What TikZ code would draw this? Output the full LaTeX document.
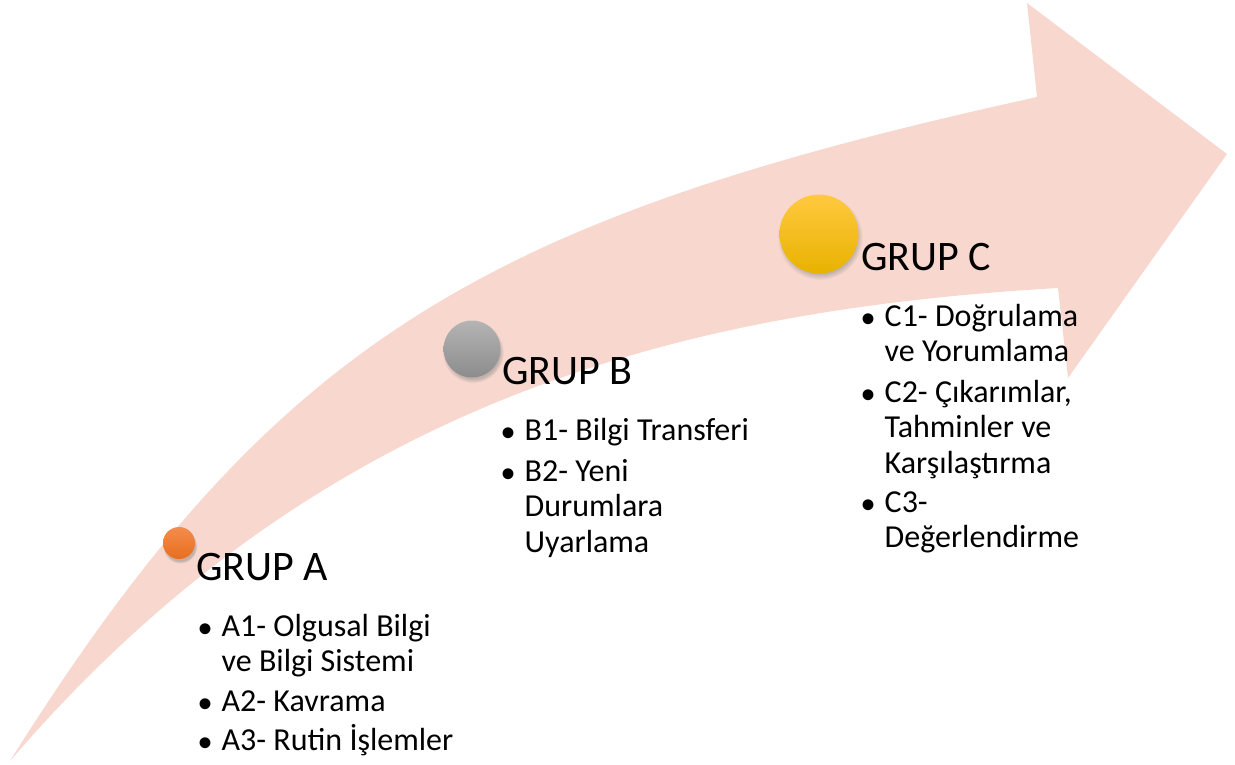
\documentclass[tikz,border=0pt]{standalone}
\usepackage{fontspec}
\setmainfont{Carlito}
\newfontfamily\bulletfont{Liberation Sans}
\usetikzlibrary{shadows}

\definecolor{band}{RGB}{248,216,206}
\definecolor{orangetop}{RGB}{244,140,76}
\definecolor{orangebot}{RGB}{232,110,30}
\definecolor{graytop}{RGB}{180,180,180}
\definecolor{graybot}{RGB}{140,140,140}
\definecolor{yellowtop}{RGB}{255,201,64}
\definecolor{yellowmid}{RGB}{255,192,0}
\definecolor{yellowbot}{RGB}{232,178,0}

% bullet glyph hung to the left of an item line
\newcommand\itembullet{\llap{\bulletfont\fontsize{40}{40}\selectfont\raisebox{-6.5pt}{\textbullet}\hspace{9pt}}}
% lines of one item, left aligned, baseline of the block = first line
\newcommand\itemlines[1]{\vtop{\baselineskip=35.5pt\lineskiplimit=-100pt\lineskip=0pt
  \halign{##\hfil\cr #1\crcr}}}

\begin{document}
\begin{tikzpicture}[x=1pt,y=-1pt,
  grouptitle/.style={anchor=base west, inner sep=0pt, font=\fontsize{42}{50}\selectfont},
  itemline/.style={anchor=base west, inner sep=0pt, font=\fontsize{32}{38}\selectfont},
  stagedot/.style={circle, inner sep=0pt, minimum size=#1,
    circular drop shadow={shadow xshift=1pt, shadow yshift=-3pt, opacity=0.45, shadow scale=1.08}},
  orangedot/.style={stagedot=#1, top color=orangetop, bottom color=orangebot},
  graydot/.style={stagedot=#1, top color=graytop, bottom color=graybot},
  yellowdot/.style={stagedot=#1, top color=yellowtop, middle color=yellowmid, bottom color=yellowbot},
]
\useasboundingbox (0,0) rectangle (1235,764);

% curved rising arrow
\fill[band] (10,761) .. controls (275,338) and (487,218) .. (1037,97)
  -- (1027,3) -- (1227,154) -- (1068,378) -- (1058,288)
  .. controls (680,310) and (320,400) .. (10,761) -- cycle;

% stage markers
\node[orangedot=32pt] (dotA) at (179,543) {};
\node[graydot=57pt]   (dotB) at (472,349) {};
\node[yellowdot=79pt] (dotC) at (819,234) {};

% group A
\node[grouptitle] (titleA) at (196,580) {GRUP A};
\node[itemline] (a1) at (221.5,636) {\itemlines{\itembullet A1- Olgusal Bilgi\cr ve Bilgi Sistemi}};
\node[itemline] (a2) at (221.5,711) {\itembullet A2- Kavrama};
\node[itemline] (a3) at (221.5,750) {\itembullet A3- Rutin İşlemler};

% group B
\node[grouptitle] (titleB) at (502,384) {GRUP B};
\node[itemline] (b1) at (524.5,440) {\itembullet B1- Bilgi Transferi};
\node[itemline] (b2) at (524.5,481) {\itemlines{\itembullet B2- Yeni\cr Durumlara\cr Uyarlama}};

% group C
\node[grouptitle] (titleC) at (861,270) {GRUP C};
\node[itemline] (c1) at (884.5,326) {\itemlines{\itembullet C1- Doğrulama\cr ve Yorumlama}};
\node[itemline] (c2) at (884.5,402) {\itemlines{\itembullet C2- Çıkarımlar,\cr Tahminler ve\cr Karşılaştırma}};
\node[itemline] (c3) at (884.5,512) {\itemlines{\itembullet C3-\cr Değerlendirme}};
\end{tikzpicture}
\end{document}
